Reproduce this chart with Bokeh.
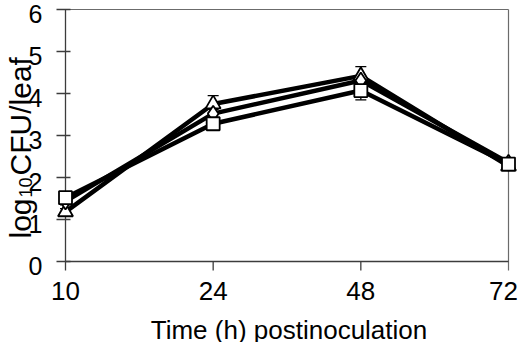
import numpy as np
from bokeh.plotting import figure
from bokeh.models import Range1d
from bokeh.core.properties import value
from bokeh.embed import file_html
from bokeh.resources import INLINE

# ---- data ----
time_labels = ["10", "24", "48", "72"]
y_tick_values = [0, 1, 2, 3, 4, 5, 6]
tri_vals = [1.18, 3.75, 4.42, 2.27]
tri_err = [0.08, 0.20, 0.22, 0.08]
dia_vals = [1.43, 3.52, 4.31, 2.35]
dia_err = [0.08, 0.10, 0.10, 0.05]
sq_vals = [1.52, 3.28, 4.07, 2.32]
sq_err = [0.08, 0.10, 0.22, 0.08]

W, H = 518, 342
# layout (pixel positions inside the figure)
X0_PX, X3_PX = 65, 508
YTOP_PX, Y0_PX = 9, 261
pxx = (X3_PX - X0_PX) / 3.0
pxy = (Y0_PX - YTOP_PX) / 6.0
x_start = -X0_PX / pxx
x_end = 3 + (W - X3_PX) / pxx
y_end = 6 + YTOP_PX / pxy
y_start = -(H - Y0_PX) / pxy

def fx(px):
    return x_start + px / pxx

def fy(py):
    return y_end - py / pxy

FONT = value("Liberation Sans")
AX = "#3c3c3c"
BOX = "#6b6b6b"

p = figure(width=W, height=H, output_backend="svg", toolbar_location=None,
           x_range=Range1d(x_start, x_end), y_range=Range1d(y_start, y_end),
           min_border=0, x_axis_type=None, y_axis_type=None)
p.outline_line_color = None
p.grid.visible = False
p.background_fill_color = "white"

xs = list(range(len(time_labels)))

# frame (top / right) and axes (left / bottom)
p.segment(x0=[0, 3], y0=[6, -9 / pxy], x1=[3, 3], y1=[6, 6],
          line_color=BOX, line_width=1.2)
p.segment(x0=[0, 0], y0=[0, 0], x1=[3, 0], y1=[0, 6],
          line_color=AX, line_width=1.3)
# y ticks (cross)
p.segment(x0=[-9 / pxx] * len(y_tick_values), y0=y_tick_values,
          x1=[5 / pxx] * len(y_tick_values), y1=y_tick_values,
          line_color=AX, line_width=1.3)
# x ticks (outside)
p.segment(x0=xs[:-1], y0=[0] * (len(xs) - 1), x1=xs[:-1], y1=[-9 / pxy] * (len(xs) - 1),
          line_color=AX, line_width=1.3)

# tick labels
p.text(x=[0] * len(y_tick_values), y=y_tick_values, text=[str(v) for v in y_tick_values],
       text_font=FONT, text_font_size="25px", text_align="right",
       text_baseline="middle", x_offset=-23, y_offset=4, text_color="black")
p.text(x=xs, y=[0] * len(xs), text=time_labels,
       x_offset=[0, 0, 0, -5],
       text_font=FONT, text_font_size="26px", text_align="center",
       text_baseline="top", y_offset=20, text_color="black")

# axis titles
p.text(x=[1.5], y=[0], text=["Time (h) postinoculation"], text_font=FONT,
       text_font_size="26px", text_align="center", text_baseline="alphabetic",
       y_offset=68, x_offset=2, text_color="black")

s_main, s_sub = 30, 18
base_px = 20
start_py = 238
log_w = 1.334 * s_main
sub_w = 1.112 * s_sub
p.text(x=[fx(base_px)], y=[fy(start_py)], text=["log"], angle=np.pi / 2,
       text_font=FONT, text_font_size=f"{s_main}px", text_align="left",
       text_baseline="alphabetic", text_color="black")
p.text(x=[fx(base_px + 5)], y=[fy(start_py - log_w - 1)], text=["10"], angle=np.pi / 2,
       text_font=FONT, text_font_size=f"{s_sub}px", text_align="left",
       text_baseline="alphabetic", text_color="black")
p.text(x=[fx(base_px)], y=[fy(start_py - log_w - sub_w - 3)], text=["CFU/leaf"],
       angle=np.pi / 2, text_font=FONT, text_font_size=f"{s_main}px",
       text_align="left", text_baseline="alphabetic", text_color="black")

series = [(tri_vals, tri_err, "triangle"), (dia_vals, dia_err, "diamond"),
          (sq_vals, sq_err, "square")]

for vals, err, mk in series:
    p.line(xs, vals, line_color="black", line_width=4.5)

for vals, err, mk in series:
    lo = [v - e for v, e in zip(vals, err)]
    hi = [v + e for v, e in zip(vals, err)]
    p.segment(x0=xs, y0=lo, x1=xs, y1=hi, line_color="black", line_width=1.3)
    p.scatter(x=xs + xs, y=lo + hi, marker="dash", size=11, line_color="black",
              line_width=1.3)

for vals, err, mk in series:
    size = {"triangle": 15, "diamond": 16, "square": 13}[mk]
    p.scatter(x=xs, y=vals, marker=mk, size=size, fill_color="white",
              line_color="black", line_width=1.8)

open("out.html", "w").write(file_html(p, INLINE))
